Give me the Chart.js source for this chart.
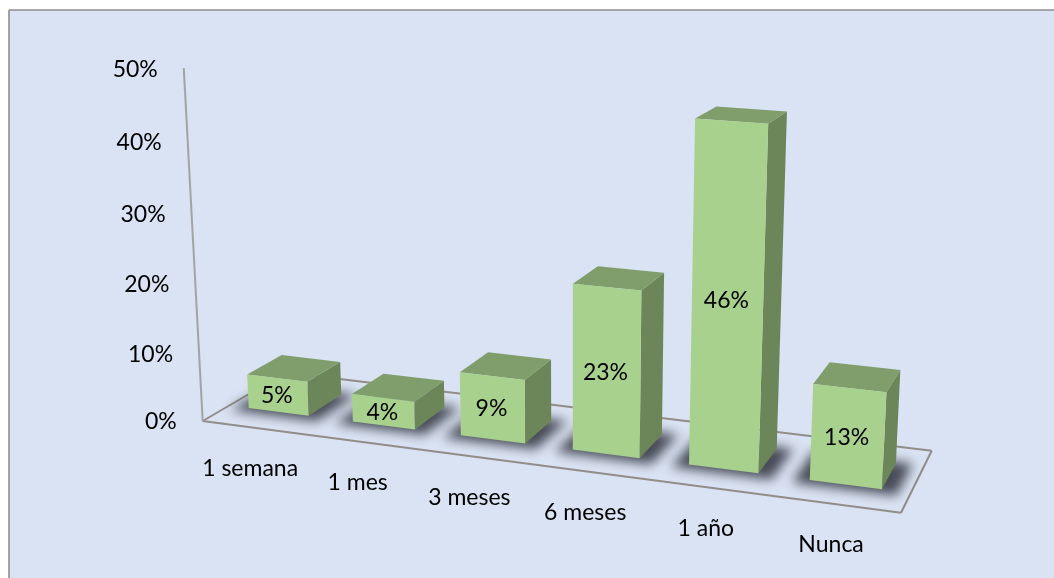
<!DOCTYPE html>
<html>
<head>
<meta charset="utf-8">
<script src="https://cdn.jsdelivr.net/npm/chart.js@4"></script>
<style>
  html, body { margin: 0; padding: 0; background: #fff; }
  canvas { display: block; }
</style>
</head>
<body>
<canvas id="myChart" width="1054" height="578"></canvas>
<script>
const categories = ['1 semana', '1 mes', '3 meses', '6 meses', '1 año', 'Nunca'];
const percentValues = [5, 4, 9, 23, 46, 13];
const axisMax = 50;
const axisStep = 10;

// camera for the 3D look: floor corners on screen and the vanishing point of the uprights
const floorFrontLeft = [202.7, 421];
const floorFrontRight = [901, 512.7];
const floorBackRight = [931.7, 450.7];
const floorBackLeft = [286, 372.5];
const upVanish = [570, 7270];
const upStrength = -0.049;
const barFront = 0.3;
const barBack = 0.72;
const barShift = -0.003;
const barHeightGain = 1.02;

const fontName = 'Lato, "Open Sans", sans-serif';

function makeCamera() {
    const [x0, y0] = floorFrontLeft, [x1, y1] = floorFrontRight;
    const [x2, y2] = floorBackRight, [x3, y3] = floorBackLeft;
    const dx1 = x1 - x2, dx2 = x3 - x2, sx = x0 - x1 + x2 - x3;
    const dy1 = y1 - y2, dy2 = y3 - y2, sy = y0 - y1 + y2 - y3;
    const den = dx1 * dy2 - dx2 * dy1;
    const g = (sx * dy2 - dx2 * sy) / den;
    const h = (dx1 * sy - sx * dy1) / den;
    const a = x1 - x0 + g * x1, b = x3 - x0 + h * x3;
    const d = y1 - y0 + g * y1, e = y3 - y0 + h * y3;
    // u along the categories, v into the depth, z up the value axis (all 0..1)
    return (u, v, z) => {
        const w = g * u + h * v + 1 + upStrength * z;
        return [
            (a * u + b * v + x0 + upStrength * z * upVanish[0]) / w,
            (d * u + e * v + y0 + upStrength * z * upVanish[1]) / w
        ];
    };
}
const project = makeCamera();

function face(ctx, pts, fill) {
    ctx.beginPath();
    pts.forEach((p, i) => i ? ctx.lineTo(p[0], p[1]) : ctx.moveTo(p[0], p[1]));
    ctx.closePath();
    ctx.fillStyle = fill;
    ctx.fill();
}

function line(ctx, p, q, color, width) {
    ctx.beginPath();
    ctx.moveTo(p[0], p[1]);
    ctx.lineTo(q[0], q[1]);
    ctx.strokeStyle = color;
    ctx.lineWidth = width;
    ctx.stroke();
}

const backdrop = {
    id: 'backdrop',
    beforeDraw(chart) {
        const ctx = chart.ctx;
        ctx.save();
        ctx.fillStyle = '#DAE3F3';
        ctx.fillRect(9, 10, 1045, 568);
        line(ctx, [9, 10], [1054, 10], '#8E8E8E', 1.6);
        line(ctx, [9, 10], [9, 578], '#8E8E8E', 1.6);
        ctx.restore();
    }
};

const bars3d = {
    id: 'bars3d',
    afterDatasetsDraw(chart) {
        const ctx = chart.ctx, area = chart.chartArea;
        const xs = chart.scales.x, ys = chart.scales.y;
        const uOf = px => (px - area.left) / area.width + barShift;
        const zOf = px => (area.bottom - px) / area.height;
        const els = chart.getDatasetMeta(0).data;
        ctx.save();

        // floor and axis lines
        const floorColor = '#918D89';
        line(ctx, project(0, 0, 0), project(1, 0, 0), floorColor, 2);
        line(ctx, project(1, 0, 0), project(1, 1, 0), floorColor, 2);
        line(ctx, project(1, 1, 0), project(0, 1, 0), floorColor, 2);
        line(ctx, project(0, 1, 0), project(0, 0, 0), floorColor, 2);
        line(ctx, project(0, 0, 0), project(0, 0, 1), '#A3A3A3', 2);

        // shadows on the floor
        els.forEach(el => {
            const u0 = uOf(el.x - el.width / 2), u1 = uOf(el.x + el.width / 2);
            ctx.save();
            ctx.filter = 'blur(6px)';
            face(ctx, [
                project(u0 - 0.02, barFront - 0.07, 0),
                project(u1 + 0.022, barFront - 0.07, 0),
                project(u1 + 0.022, barBack + 0.03, 0),
                project(u0 - 0.02, barBack + 0.03, 0)
            ], '#474B57');
            ctx.restore();
        });

        // boxes
        els.forEach(el => {
            const u0 = uOf(el.x - el.width / 2), u1 = uOf(el.x + el.width / 2);
            const z = zOf(el.y) * barHeightGain;
            const fbl = project(u0, barFront, 0), fbr = project(u1, barFront, 0);
            const ftl = project(u0, barFront, z), ftr = project(u1, barFront, z);
            const bbr = project(u1, barBack, 0);
            const btl = project(u0, barBack, z), btr = project(u1, barBack, z);
            face(ctx, [fbr, bbr, btr, ftr], '#6C8659');
            face(ctx, [ftl, ftr, btr, btl], '#7F9E6B');
            face(ctx, [fbl, fbr, ftr, ftl], '#A9D18E');
        });

        // value labels on the front faces
        ctx.fillStyle = '#000';
        ctx.textAlign = 'center';
        ctx.textBaseline = 'middle';
        ctx.font = '23px ' + fontName;
        els.forEach((el, i) => {
            const c = project(uOf(el.x), barFront, zOf(el.y) * barHeightGain / 2);
            ctx.fillText(percentValues[i] + '%', c[0] - 1, c[1] + 1);
        });

        // category labels along the front of the floor
        categories.forEach((name, i) => {
            const p = project(uOf(xs.getPixelForValue(i)), 0, 0);
            ctx.fillText(name, p[0] - 3, p[1] + 41);
        });

        // value axis labels
        ctx.textAlign = 'right';
        ys.ticks.forEach(t => {
            const p = project(0, 0, zOf(ys.getPixelForValue(t.value)));
            ctx.fillText(t.label, p[0] - 26, p[1] + 1);
        });
        ctx.restore();
    }
};

const chart = new Chart(document.getElementById('myChart'), {
    type: 'bar',
    data: {
        labels: categories,
        datasets: [{
            data: percentValues,
            backgroundColor: 'transparent',
            barPercentage: 0.58,
            categoryPercentage: 1
        }]
    },
    options: {
        responsive: false,
        animation: false,
        plugins: { legend: { display: false }, tooltip: { enabled: false } },
        scales: {
            x: { display: false },
            y: {
                display: false,
                min: 0,
                max: axisMax,
                ticks: { stepSize: axisStep, callback: v => v + '%' }
            }
        }
    },
    plugins: [backdrop, bars3d]
});
</script>
</body>
</html>
